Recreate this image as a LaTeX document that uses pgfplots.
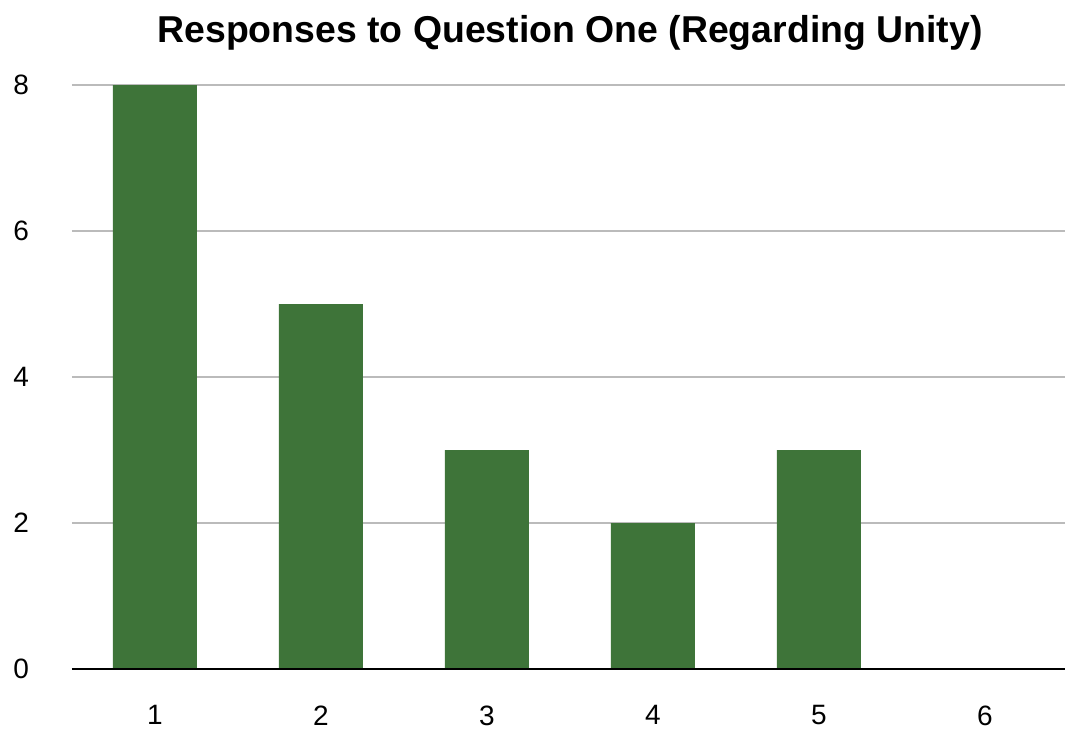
\documentclass[border=0pt]{standalone}
\usepackage{fontspec}
\setmainfont{Liberation Sans}
\usepackage{pgfplots}
\pgfplotsset{compat=1.18}
\definecolor{bargreen}{HTML}{3E7439}
\definecolor{gridgray}{HTML}{BBBBBB}
\begin{document}
\begin{tikzpicture}
\useasboundingbox (-36pt,-30.5pt) rectangle (496.5pt,334.5pt);
\begin{axis}[
  at={(0,0)}, anchor=south west,
  scale only axis,
  width=498pt, height=292pt,
  xmin=0.5, xmax=6.5, ymin=0, ymax=8,
  axis line style={draw=none},
  ytick={0,2,4,6,8},
  xtick={1,2,3,4,5,6},
  ymajorgrids,
  grid style={gridgray, line width=1pt},
  tick style={draw=none},
  yticklabel style={font=\fontsize{14}{16}\selectfont, xshift=-18pt},
  xticklabel style={font=\fontsize{14}{16}\selectfont, yshift=-10.5pt},
  /pgf/number format/assume math mode=true,
  title={\bfseries Responses to Question One (Regarding Unity)},
  title style={font=\fontsize{18.7}{22}\selectfont, anchor=base, yshift=15.5pt},
  clip=false,
  ybar, bar width=42pt,
]
\addplot[fill=bargreen, draw=none] coordinates {(1,8) (2,5) (3,3) (4,2) (5,3) (6,0)};
\draw[black, line width=1pt] (axis cs:0.5,0) -- (axis cs:6.5,0);
\end{axis}
\end{tikzpicture}
\end{document}
